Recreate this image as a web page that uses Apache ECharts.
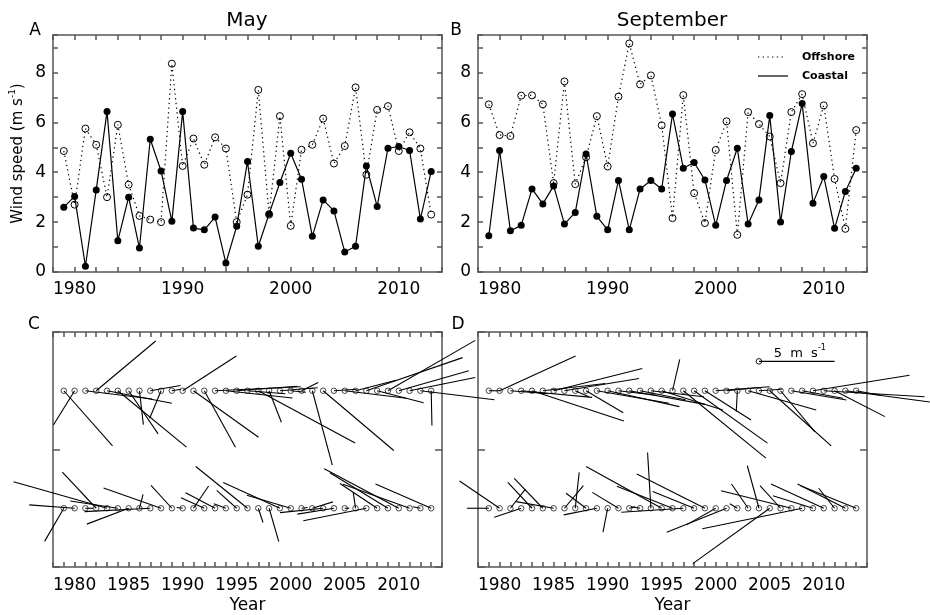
<!DOCTYPE html>
<html>
<head>
<meta charset="UTF-8" />
<title>Wind speed, May and September</title>
<script src="https://cdn.jsdelivr.net/npm/echarts@6/dist/echarts.min.js"></script>
</head>
<body style="margin:0;background:#fff;">

<div id="main" style="width:930px;height:615px;"></div>
<script type="text/javascript">

    // years on the x axis
    var years = [1979,1980,1981,1982,1983,1984,1985,1986,1987,1988,1989,1990,1991,1992,1993,1994,1995,
                 1996,1997,1998,1999,2000,2001,2002,2003,2004,2005,2006,2007,2008,2009,2010,2011,2012,2013];

    // wind speed (m/s), panel A = May, panel B = September
    var mayOffshore = [4.85,2.7,5.75,5.1,3.0,5.9,3.5,2.25,2.1,2.0,8.35,4.25,5.35,4.3,5.4,4.95,2.0,3.1,7.3,2.3,
                       6.25,1.85,4.9,5.1,6.15,4.35,5.05,7.4,3.9,6.5,6.65,4.85,5.6,4.95,2.3];
    var mayCoastal  = [2.6,3.03,0.23,3.29,6.43,1.25,3.0,0.96,5.32,4.05,2.03,6.43,1.76,1.69,2.2,0.36,1.83,4.43,1.03,2.33,
                       3.59,4.76,3.72,1.43,2.89,2.45,0.8,1.03,4.25,2.63,4.96,5.03,4.87,2.12,4.03];
    var sepOffshore = [6.72,5.49,5.45,7.07,7.08,6.72,3.56,7.64,3.52,4.6,6.25,4.23,7.03,9.16,7.52,7.88,5.88,2.16,7.09,3.16,
                       1.96,4.89,6.04,1.49,6.41,5.93,5.43,3.56,6.41,7.13,5.16,6.68,3.73,1.73,5.69];
    var sepCoastal  = [1.45,4.87,1.65,1.87,3.33,2.73,3.45,1.92,2.39,4.73,2.23,1.69,3.67,1.69,3.33,3.67,3.33,6.33,4.16,4.39,
                       3.69,1.87,3.67,4.96,1.92,2.89,6.27,2.0,4.83,6.75,2.76,3.83,1.75,3.23,4.16];

    // wind vectors (u east, v north, m/s), panels C and D
    var mayOffU = [3.22,-1.4,4.41,3.93,4.28,4.54,1.95,0.26,2.0,-0.75,0.6,3.55,4.3,2.06,5.66,4.4,4.0,2.5,6.4,0.81,
                   2.5,1.0,1.1,1.32,4.67,1.5,4.06,2.68,6.36,3.07,5.77,4.63,4.34,4.9,0.05];
    var mayOffV = [-3.64,-2.26,-0.55,3.29,-0.83,-3.73,-2.85,-2.24,0.35,-1.82,0.1,2.3,-3.07,-3.73,0.26,-0.48,0.3,-0.2,-3.46,-2.08,
                   0.2,-0.1,0.55,-4.91,-3.95,0.1,-0.5,0.7,2.19,-0.79,3.33,1.32,0.88,-0.6,-2.3];
    var mayCoastU = [-1.27,-3.0,0.5,-2.24,-6.18,-3.14,-2.76,0.24,-4.34,-3.8,-1.38,-0.4,1.0,-1.54,-1.95,-0.8,-1.32,-3.42,0.31,0.64,
                     -3.75,-2.9,0.4,1.36,-2.85,-2.42,0.3,-0.15,-4.17,-2.46,-3.84,-4.93,-4.4,-0.5,-3.68];
    var mayCoastV = [-2.19,0.22,0.0,2.39,1.75,0.48,-1.05,0.92,-0.22,1.34,1.51,0.05,1.47,0.7,1.03,0.3,1.18,2.76,-0.94,-2.2,
                     1.71,0.86,0.05,0.42,-0.29,-0.39,0.0,1.03,-0.83,1.64,2.35,2.61,1.58,0.1,1.6];
    var sepOffU = [0.8,5.02,2.5,4.69,6.07,4.14,5.86,4.93,0.9,2.46,4.78,4.74,2.5,5.0,3.0,3.5,4.04,0.48,5.46,4.85,
                   3.05,3.55,2.0,-0.07,4.5,1.5,4.06,2.26,3.64,2.7,6.38,6.66,3.33,5.58,1.6];
    var sepOffV = [0.0,2.3,-0.2,-0.44,-2.0,0.48,1.47,0.81,-0.4,-1.45,-0.83,-1.05,-0.3,-0.9,-0.6,-0.4,-1.27,2.08,-4.45,-3.46,
                   -1.93,0.26,0.2,-1.38,-1.27,0.1,-3.64,-2.7,-0.61,-0.5,1.03,-0.4,-1.71,-0.74,-0.3];
    var sepCoastU = [-1.45,-2.65,0.99,-1.78,-1.6,-1.89,-2.48,1.25,0.26,-1.32,-2.19,-0.31,-1.73,0.4,-0.6,-0.22,-5.0,-3.68,-4.1,-2.74,
                     -4.5,-1.93,-3.95,-0.5,-1.1,-0.77,-5.09,-1.36,-4.65,-6.6,-2.65,-3.49,-1.05,-3.16,-3.68];
    var sepCoastV = [0.0,1.8,1.27,-0.59,1.71,1.97,0.44,1.5,2.37,0.99,-0.44,-1.58,1.05,0.1,0.1,3.68,2.76,1.45,-0.26,1.1,
                     2.26,-1.1,-1.58,0.3,1.6,2.81,-3.66,1.49,1.16,-1.36,0.83,1.6,1.32,1.6,1.49];

    // tick labels
    var speedTicks = [0, 2, 4, 6, 8];
    var topYearTicks = [1980, 1990, 2000, 2010];
    var bottomYearTicks = [1980, 1985, 1990, 1995, 2000, 2005, 2010];

    // stick plot rows (offshore above, coastal below) and the 5 m/s key
    var offshoreLevel = 3;
    var coastalLevel = 1;
    var keyYear = 2004, keyLevel = 3.5, keySpeed = 5;

    // 1 m/s is drawn as long as 1.4 years on the x axis
    var YEARS_PER_MS = 1.4;

    var FONT = 'DejaVu Sans';
    var frameStyle = {color: '#555', width: 1.5};

    function pairs(ys) {
        return years.map(function (y, i) { return [y, ys[i]]; });
    }
    function sticks(level, u, v) {
        return years.map(function (y, i) { return [y, level, u[i], v[i]]; });
    }
    function listFormatter(list) {
        return function (v) {
            var r = Math.round(v * 1000) / 1000;
            return list.indexOf(r) >= 0 ? String(r) : '';
        };
    }

    var xAxes = [], yAxes = [];
    function addAxes(gi, isTop) {
        var xBase = {
            gridIndex: gi, type: 'value', min: 1978, max: 2014, interval: isTop ? 2 : 1,
            axisLine: {show: true, onZero: false, lineStyle: frameStyle},
            axisTick: {show: true, inside: true, length: 5, lineStyle: frameStyle},
            splitLine: {show: false}
        };
        xAxes.push(Object.assign({}, xBase, {
            position: 'bottom',
            axisLabel: {show: true, margin: isTop ? 9 : 10, fontSize: 17, fontFamily: FONT, color: '#000',
                        formatter: listFormatter(isTop ? topYearTicks : bottomYearTicks)},
            name: isTop ? '' : 'Year', nameLocation: 'middle', nameGap: 30,
            nameTextStyle: {fontSize: 17, fontFamily: FONT, color: '#000'}
        }));
        xAxes.push(Object.assign({}, xBase, {position: 'top', axisLabel: {show: false}}));

        var yBase = {
            gridIndex: gi, type: 'value', min: 0, max: isTop ? 9.5 : 4, interval: isTop ? 1 : 2,
            axisLine: {show: true, onZero: false, lineStyle: frameStyle},
            axisTick: {show: true, inside: true, length: isTop ? 5 : 7, lineStyle: frameStyle},
            splitLine: {show: false}
        };
        var left = Object.assign({}, yBase, {
            position: 'left',
            axisLabel: {show: isTop, margin: 7, fontSize: 17, fontFamily: FONT, color: '#000',
                        formatter: listFormatter(speedTicks)}
        });
        if (gi === 0) {
            left.name = '{n|Wind speed (m s}{s|-1}{n|)}';
            left.nameLocation = 'middle';
            left.nameGap = 27;
            left.nameTextStyle = {
                rich: {
                    n: {fontSize: 15, fontFamily: FONT, color: '#000', verticalAlign: 'bottom', lineHeight: 18},
                    s: {fontSize: 9, fontFamily: FONT, color: '#000', verticalAlign: 'top', lineHeight: 18}
                }
            };
        }
        yAxes.push(left);
        yAxes.push(Object.assign({}, yBase, {position: 'right', axisLabel: {show: false}}));
    }
    addAxes(0, true);
    addAxes(1, true);
    addAxes(2, false);
    addAxes(3, false);

    function offshoreLine(xi, data) {
        return {
            type: 'line', xAxisIndex: xi, yAxisIndex: xi, data: data, z: 3,
            symbol: 'circle', symbolSize: 7,
            itemStyle: {color: 'transparent', borderColor: '#000', borderWidth: 1},
            lineStyle: {color: '#000', width: 1.2, type: [1.3, 3.4]}
        };
    }
    function coastalLine(xi, data) {
        return {
            type: 'line', xAxisIndex: xi, yAxisIndex: xi, data: data, z: 4,
            symbol: 'circle', symbolSize: 7,
            itemStyle: {color: '#000'},
            lineStyle: {color: '#000', width: 1.2}
        };
    }
    function origins(xi, level) {
        return {
            type: 'scatter', xAxisIndex: xi, yAxisIndex: xi, z: 3,
            data: years.map(function (y) { return [y, level]; }),
            symbol: 'circle', symbolSize: 5.5,
            itemStyle: {color: 'transparent', borderColor: '#000', borderWidth: 0.9}
        };
    }

    function renderStick(params, api) {
        var p = api.coord([api.value(0), api.value(1)]);
        var s = api.size([1, 0])[0] * YEARS_PER_MS;
        return {
            type: 'line',
            shape: {x1: p[0], y1: p[1], x2: p[0] + api.value(2) * s, y2: p[1] - api.value(3) * s},
            style: {stroke: '#000', lineWidth: 1.1}
        };
    }
    function stickSeries(xi, data) {
        return {type: 'custom', xAxisIndex: xi, yAxisIndex: xi, clip: false, z: 4,
                renderItem: renderStick, data: data, encode: {x: 0, y: 1}};
    }

    function renderKey(params, api) {
        var p = api.coord([api.value(0), api.value(1)]);
        var len = api.value(2) * api.size([1, 0])[0] * YEARS_PER_MS;
        return {
            type: 'group',
            children: [
                {type: 'line', shape: {x1: p[0], y1: p[1], x2: p[0] + len, y2: p[1]},
                 style: {stroke: '#000', lineWidth: 1.1}},
                {type: 'circle', shape: {cx: p[0], cy: p[1], r: 2.8},
                 style: {fill: 'none', stroke: '#000', lineWidth: 0.9}},
                {type: 'text', x: p[0] + len / 2 + 3, y: p[1] - 9,
                 style: {text: '{a|' + api.value(2) + '  m  s}{b|-1}', align: 'center', verticalAlign: 'middle',
                         rich: {a: {fontSize: 13, fontFamily: FONT, fill: '#000', verticalAlign: 'bottom', lineHeight: 16},
                                b: {fontSize: 8, fontFamily: FONT, fill: '#000', verticalAlign: 'top', lineHeight: 16}}}}
            ]
        };
    }

    var textStyle = {fill: '#000', fontFamily: FONT};
    function label(x, y, text, size, weight, align) {
        return {type: 'text', x: x, y: y,
                style: Object.assign({}, textStyle, {text: text, fontSize: size, fontWeight: weight || 'normal',
                                                     align: align || 'center', verticalAlign: 'middle'})};
    }

    var option = {
        animation: false,
        backgroundColor: '#fff',
        grid: [
            {left: 53, top: 35, width: 389, height: 237},
            {left: 478, top: 35, width: 389, height: 237},
            {left: 53, top: 332, width: 389, height: 235},
            {left: 478, top: 332, width: 389, height: 235}
        ],
        xAxis: xAxes,
        yAxis: yAxes,
        graphic: [
            label(247, 21, 'May', 20),
            label(672, 21, 'September', 20),
            label(35, 31, 'A', 17),
            label(456, 31, 'B', 17),
            label(34, 325, 'C', 17),
            label(458, 325, 'D', 17),
            {type: 'line', shape: {x1: 758, y1: 57, x2: 786, y2: 57},
             style: {stroke: '#000', lineWidth: 1.2, lineDash: [1.3, 3.4]}},
            label(802, 57, 'Offshore', 11, 'bold', 'left'),
            {type: 'line', shape: {x1: 758, y1: 76, x2: 788, y2: 76},
             style: {stroke: '#000', lineWidth: 1.2}},
            label(802, 76, 'Coastal', 11, 'bold', 'left')
        ],
        series: [
            offshoreLine(0, pairs(mayOffshore)),
            coastalLine(0, pairs(mayCoastal)),
            offshoreLine(2, pairs(sepOffshore)),
            coastalLine(2, pairs(sepCoastal)),

            origins(4, offshoreLevel),
            origins(4, coastalLevel),
            stickSeries(4, sticks(offshoreLevel, mayOffU, mayOffV)),
            stickSeries(4, sticks(coastalLevel, mayCoastU, mayCoastV)),

            origins(6, offshoreLevel),
            origins(6, coastalLevel),
            stickSeries(6, sticks(offshoreLevel, sepOffU, sepOffV)),
            stickSeries(6, sticks(coastalLevel, sepCoastU, sepCoastV)),
            {type: 'custom', xAxisIndex: 6, yAxisIndex: 6, clip: false, z: 4,
             renderItem: renderKey, data: [[keyYear, keyLevel, keySpeed]], encode: {x: 0, y: 1}}
        ]
    };

    var myChart = echarts.init(document.getElementById('main'));
    myChart.setOption(option);
</script>

</body>
</html>
